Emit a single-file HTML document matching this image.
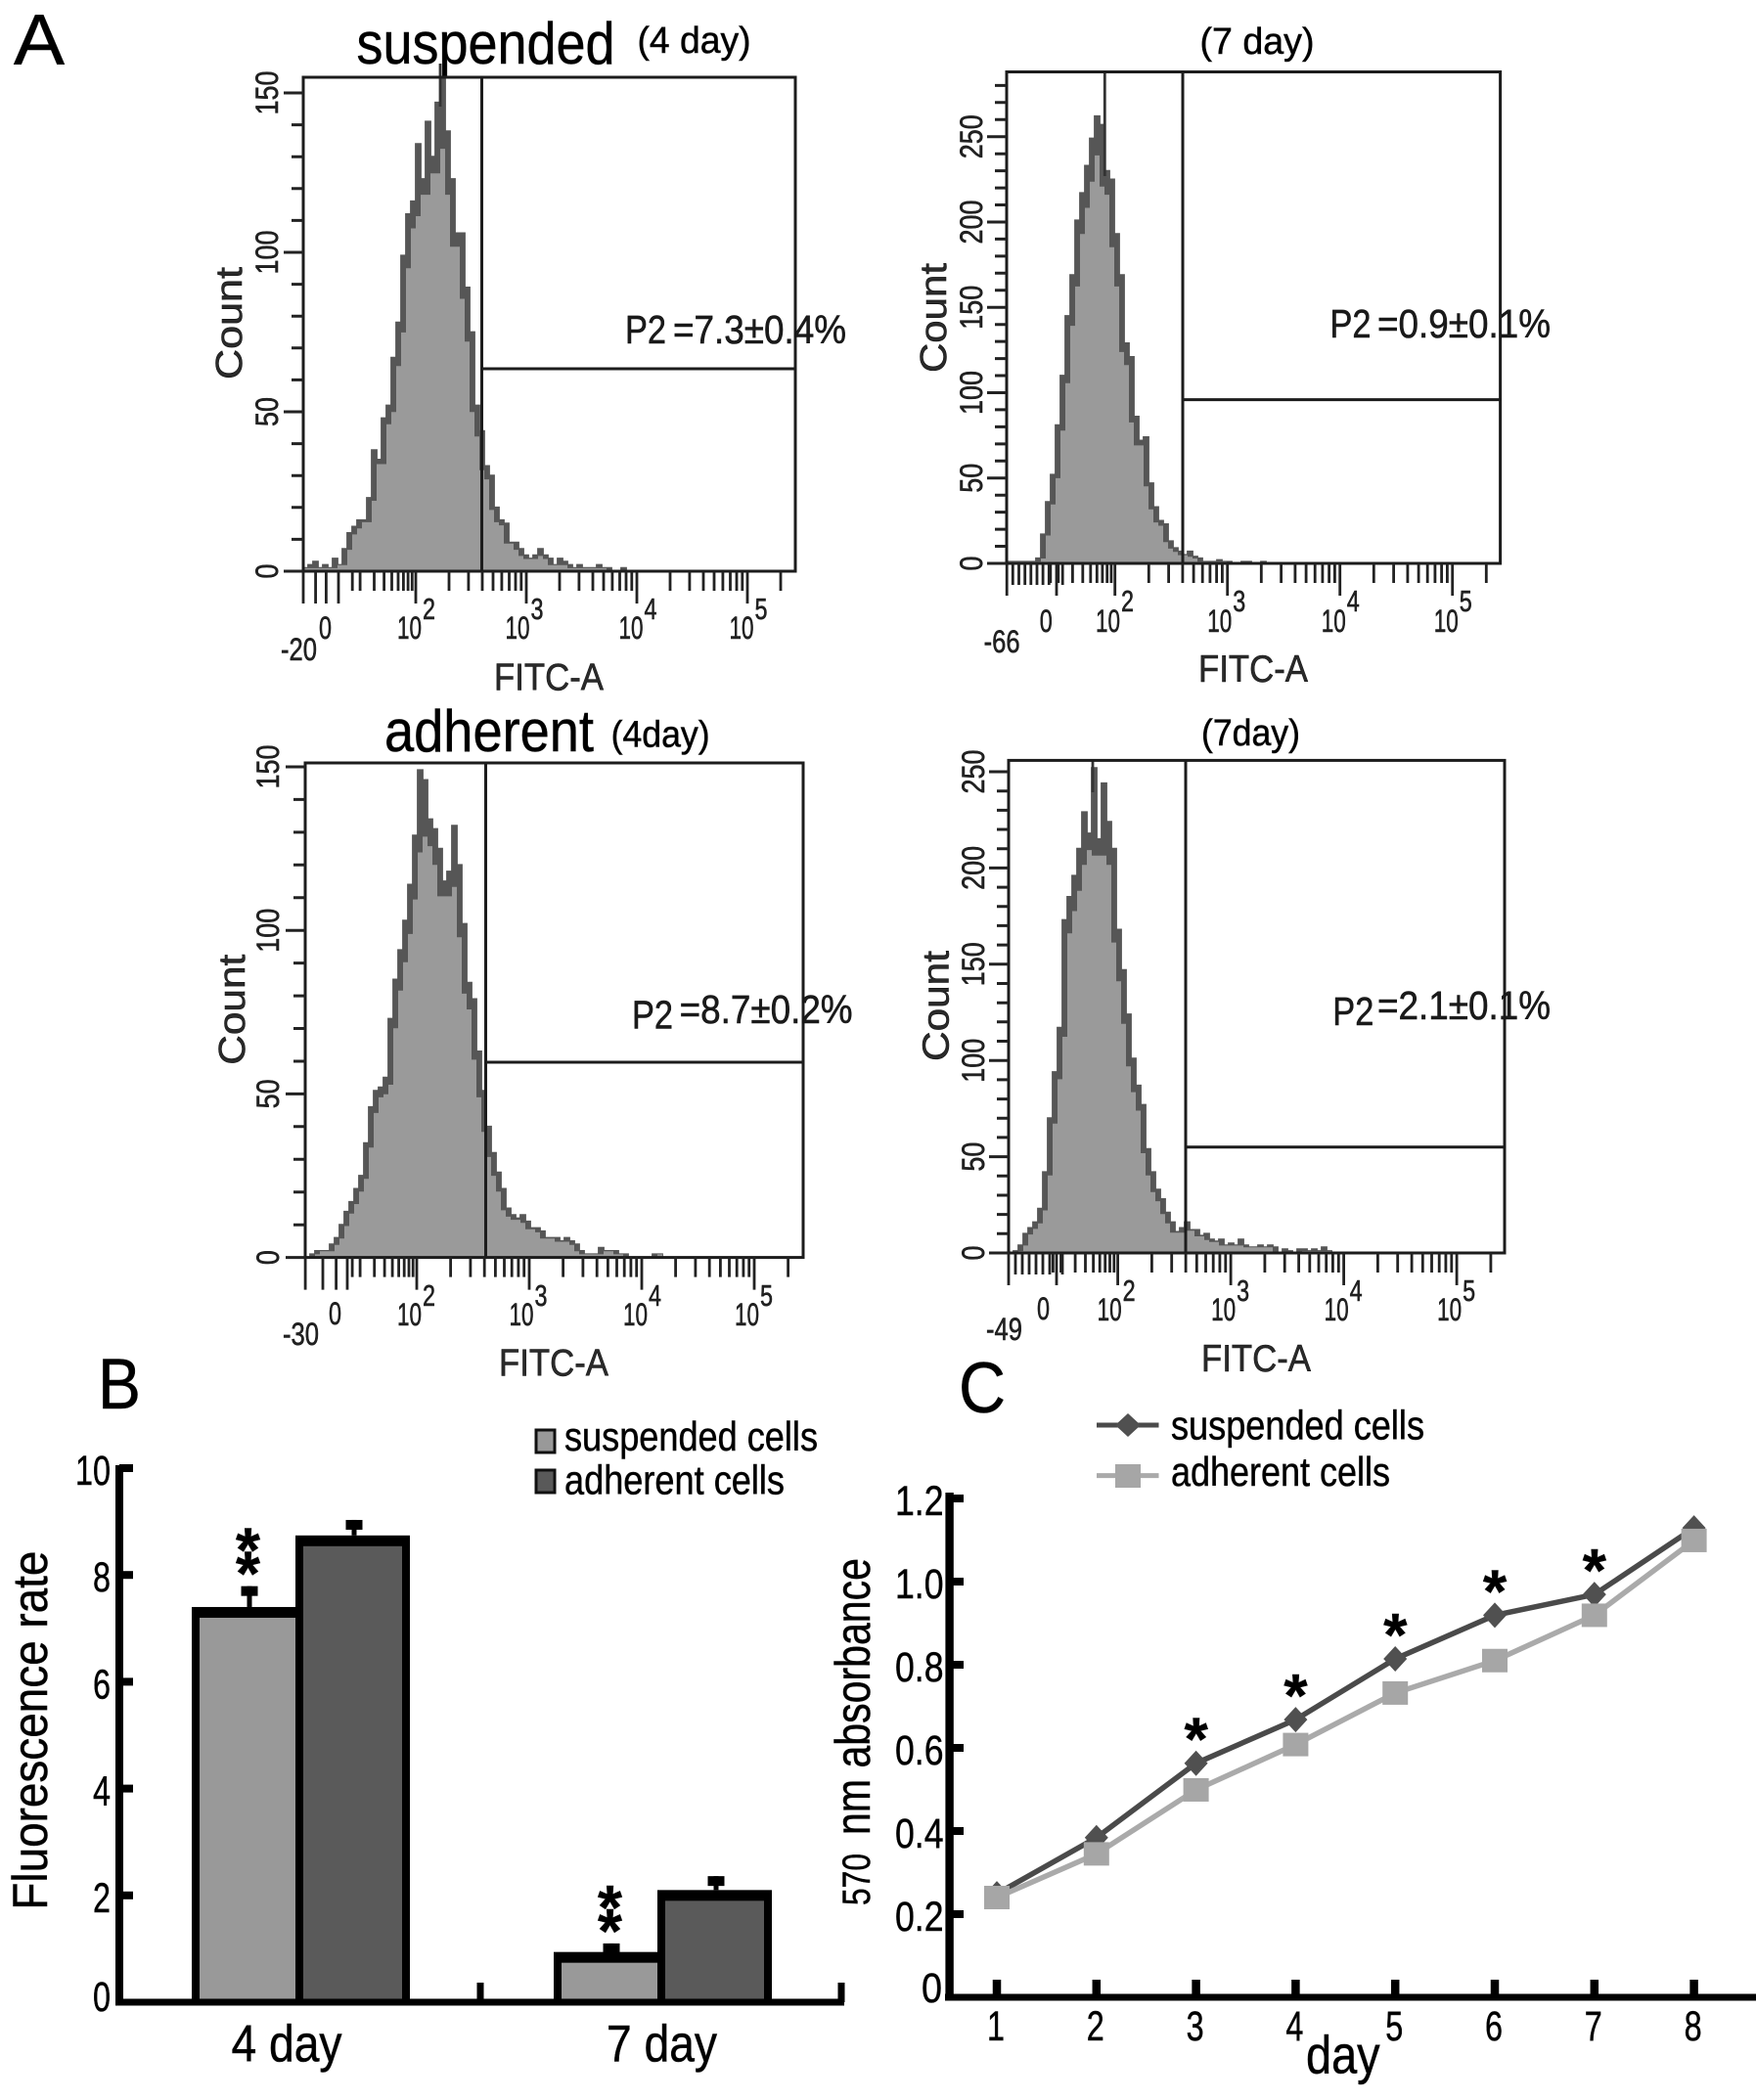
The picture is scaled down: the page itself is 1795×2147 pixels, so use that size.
<!DOCTYPE html>
<html lang="en">
<head>
<meta charset="utf-8">
<title>Flow cytometry histograms, fluorescence rate and absorbance charts</title>
<style>
html,body{margin:0;padding:0;background:#fff;}
svg{display:block;font-family:"Liberation Sans",Arial,sans-serif;}
text{stroke:#111;stroke-width:.55px;}
</style>
</head>
<body>
<svg id="fig" xmlns="http://www.w3.org/2000/svg" width="1795" height="2147" viewBox="0 0 1795 2147">
  <rect width="1795" height="2147" fill="#fff"/>
  <text x="14" y="66" font-size="73" textLength="52" lengthAdjust="spacingAndGlyphs">A</text>
  <text x="100" y="1440" font-size="73" textLength="44" lengthAdjust="spacingAndGlyphs">B</text>
  <text x="980" y="1444" font-size="73" textLength="48" lengthAdjust="spacingAndGlyphs">C</text>

  <text x="364.5" y="65" font-size="60" textLength="264" lengthAdjust="spacingAndGlyphs">suspended</text>
  <text x="651.5" y="54" font-size="38" textLength="116" lengthAdjust="spacingAndGlyphs">(4 day)</text>
  <text x="1226.5" y="55" font-size="38" textLength="117" lengthAdjust="spacingAndGlyphs">(7 day)</text>
  <text x="393" y="768" font-size="60" textLength="214" lengthAdjust="spacingAndGlyphs">adherent</text>
  <text x="624.6" y="763.6" font-size="38" textLength="101" lengthAdjust="spacingAndGlyphs">(4day)</text>
  <text x="1228" y="762" font-size="38" textLength="101" lengthAdjust="spacingAndGlyphs">(7day)</text>

  <g id="hists"></g>

  <g fill="#1a1a1a">
    <text x="639" y="351" font-size="41" textLength="42" lengthAdjust="spacingAndGlyphs">P2</text>
    <text x="688" y="351" font-size="41" textLength="177" lengthAdjust="spacingAndGlyphs">=7.3±0.4%</text>
    <text x="1359.5" y="345" font-size="41" textLength="42" lengthAdjust="spacingAndGlyphs">P2</text>
    <text x="1408" y="345" font-size="41" textLength="177" lengthAdjust="spacingAndGlyphs">=0.9±0.1%</text>
    <text x="646" y="1051.5" font-size="41" textLength="42" lengthAdjust="spacingAndGlyphs">P2</text>
    <text x="694.6" y="1046" font-size="41" textLength="177" lengthAdjust="spacingAndGlyphs">=8.7±0.2%</text>
    <text x="1362.3" y="1048" font-size="41" textLength="42" lengthAdjust="spacingAndGlyphs">P2</text>
    <text x="1408" y="1042" font-size="41" textLength="177" lengthAdjust="spacingAndGlyphs">=2.1±0.1%</text>
  </g>

  <g id="bars"></g>
  <text transform="translate(48,1952.6) rotate(-90)" font-size="50" textLength="367" lengthAdjust="spacingAndGlyphs">Fluorescence rate</text>
  <g>
    <rect x="548" y="1462" width="19" height="23" fill="#999" stroke="#111" stroke-width="3"/>
    <text x="577" y="1483" font-size="42" textLength="259" lengthAdjust="spacingAndGlyphs">suspended cells</text>
    <rect x="548" y="1503" width="19" height="23" fill="#595959" stroke="#111" stroke-width="3"/>
    <text x="577" y="1527.6" font-size="42" textLength="225" lengthAdjust="spacingAndGlyphs">adherent cells</text>
  </g>

  <g id="lines"></g>
  <text transform="translate(889,1948) rotate(-90)" font-size="40" textLength="53" lengthAdjust="spacingAndGlyphs">570</text>
  <text transform="translate(889,1876) rotate(-90)" font-size="50" textLength="283" lengthAdjust="spacingAndGlyphs">nm absorbance</text>
  <text x="1335" y="2119.4" font-size="55" textLength="75.6" lengthAdjust="spacingAndGlyphs">day</text>
  <g>
    <line x1="1121" y1="1457" x2="1184.5" y2="1457" stroke="#4a4a4a" stroke-width="5"/>
    <polygon points="1153,1445 1166,1457 1153,1469 1140,1457" fill="#505050"/>
    <text x="1197" y="1471.5" font-size="42" textLength="259" lengthAdjust="spacingAndGlyphs">suspended cells</text>
    <line x1="1121" y1="1508.6" x2="1184.5" y2="1508.6" stroke="#aaa" stroke-width="5"/>
    <rect x="1140" y="1497" width="26" height="24" fill="#a6a6a6"/>
    <text x="1197" y="1519" font-size="42" textLength="224" lengthAdjust="spacingAndGlyphs">adherent cells</text>
  </g>
</svg>

<script>
// ---- Histogram data: counts per 5 px channel bin ----
const countsSuspended4 = [1,2,3,1,2,1,4,2,7,12,14,16,16,23,38,35,48,52,67,78,99,112,116,134,123,141,130,147,155,138,123,106,106,89,75,52,44,33,30,20,16,15,9,9,7,5,4,5,7,5,4,2,4,3,2,1,2,1,1,1,2,1,1,0,0,1];
const countsSuspended7 = [1,1,1,1,1,1,3,17,36,52,81,110,145,169,201,217,233,249,262,257,230,225,193,169,129,121,86,72,74,47,33,25,23,13,9,7,5,7,4,3,1,1,1,2,1,1,0,0,1,1,0,0,1];
const countsAdherent4 = [0,1,2,2,2,4,6,10,14,17,21,25,35,46,51,52,55,73,85,94,103,114,129,149,146,134,131,125,115,118,132,120,102,84,79,63,51,40,32,26,21,15,13,12,13,11,9,9,8,6,6,6,5,6,5,4,2,1,1,1,3,2,2,2,1,1,0,0,0,0,0,1,1];
const countsAdherent7 = [0,1,4,10,13,16,23,42,70,94,117,173,185,196,210,229,218,252,215,244,224,210,168,147,124,101,87,77,54,42,33,28,21,16,11,13,16,12,12,9,10,7,6,7,4,5,4,7,4,3,3,4,3,4,3,0,2,1,0,2,2,1,2,1,3,1];
const countTicks4 = [0,50,100,150];
const countTicks7 = [0,50,100,150,200,250];
const decadeLabels = [2,3,4,5];
const subDecadeTicks = [16,20,30,40,50,60,70,80,90];
const lowTicksSuspended4 = [-20,-13,-7,0];
const lowTicksSuspended7 = [-66,-58,-50,-42,-34,-26,-18,-10,0,8];
const lowTicksAdherent4 = [-30,-17.5,-8,0];
const lowTicksAdherent7 = [-49,-42,-35,-28,-21,-14,-7,0,6];

// ---- Bar chart data ----
const barCategories = ["4 day","7 day"];
const barSuspended = [7.4,0.94];
const barAdherent = [8.74,2.1];
const barSuspendedErrorTop = [7.79,1.1];
const barAdherentErrorTop = [9.03,2.36];
const barTickLabels = [0,2,4,6,8,10];

// ---- Line chart data ----
const lineDays = [1,2,3,4,5,6,7,8];
const lineSuspended = [0.249,0.384,0.563,0.668,0.814,0.919,0.969,1.129];
const lineAdherent = [0.24,0.345,0.499,0.608,0.732,0.81,0.919,1.099];
const lineTickValues = [0,0.2,0.4,0.6,0.8,1.0,1.2];
const lineStarDays = [3,4,5,6,7];

const NS = 'http://www.w3.org/2000/svg';
function make(tag, attrs, parent){
  const e = document.createElementNS(NS, tag);
  for (const k in attrs) e.setAttribute(k, attrs[k]);
  parent.appendChild(e);
  return e;
}
function label(parent, str, x, y, size, len, rot, fill){
  const a = {'font-size': size, fill: fill || '#000'};
  if (rot) a.transform = 'translate(' + x + ',' + y + ') rotate(-90)';
  else { a.x = x; a.y = y; }
  if (len) { a.textLength = len; a.lengthAdjust = 'spacingAndGlyphs'; }
  const t = make('text', a, parent);
  t.textContent = str;
  return t;
}

// ---------- Histogram panels ----------
const panels = [
 {id:'suspended-4', L:310, R:813, T:79, B:584, gx:492.5, gy:377, ppc:3.26, counts:countsSuspended4, yTicks:countTicks4,
  d2:425, dec:113, lows:lowTicksSuspended4, allTall:true, x0:346, unit:1.8, spike:450, spikeTop:65, spikeEnd:109, labelX:284,
  decStart:[-19,-21.5,-18.5,-18.5], decBase:653, expBase:633, zeroX:326, zeroBase:653, minText:'-20', minX:287, minBase:675,
  countX:247, countY:388, countLen:115, fitcX:505, fitcY:705.7},
 {id:'suspended-7', L:1029, R:1533.6, T:73.5, B:576, gx:1209, gy:408.6, ppc:1.745, counts:countsSuspended7, yTicks:countTicks7,
  d2:1139.7, dec:115, lows:lowTicksSuspended7, allTall:false, x0:1080, unit:0.77, spike:1129.3, spikeTop:73.5, spikeEnd:180, labelX:1004,
  decStart:[-19.7,-20.4,-19,-19], decBase:646, expBase:625, zeroX:1062.7, zeroBase:646, minText:'-66', minX:1005.6, minBase:667,
  countX:967, countY:381, countLen:112, fitcX:1225, fitcY:697},
 {id:'adherent-4', L:312, R:821, T:780, B:1285.6, gx:496.5, gy:1086, ppc:3.344, counts:countsAdherent4, yTicks:countTicks4,
  d2:426, dec:115, lows:lowTicksAdherent4, allTall:true, x0:355, unit:1.43, spike:null, spikeTop:0, spikeEnd:0, labelX:285,
  decStart:[-20,-20.5,-19,-20], decBase:1355, expBase:1335, zeroX:336, zeroBase:1354, minText:'-30', minX:289, minBase:1375,
  countX:250, countY:1088.7, countLen:113, fitcX:510, fitcY:1406.4},
 {id:'adherent-7', L:1031, R:1538, T:777.4, B:1281, gx:1212, gy:1172.7, ppc:1.968, counts:countsAdherent7, yTicks:countTicks7,
  d2:1142.6, dec:115.5, lows:lowTicksAdherent7, allTall:false, x0:1080, unit:1.0, spike:1117, spikeTop:777.4, spikeEnd:810, labelX:1006,
  decStart:[-21,-20,-20,-20], decBase:1350, expBase:1330, zeroX:1060, zeroBase:1349, minText:'-49', minX:1008, minBase:1370,
  countX:969.6, countY:1085, countLen:113, fitcX:1228, fitcY:1402}
];
const BIN = 5;
const histRoot = document.getElementById('hists');
panels.forEach(function(p){
  const g = make('g', {}, histRoot);
  
  
  const xBin = function(i){ return p.L + i * BIN; };
  const yCount = function(c){ return Math.max(p.T, p.B - c * p.ppc); };
  const xLog = function(v){
    const lg = Math.log10(v);
    return p.d2 + (lg - 2) * p.dec * (lg < 2 ? 0.72 : 1);
  };
  const xLow = function(v){ return p.x0 + v * p.unit; };
  const stepPath = function(vals){
    let d = 'M' + xBin(0) + ' ' + p.B;
    vals.forEach(function(c, i){
      d += 'V' + yCount(c).toFixed(1) + 'H' + xBin(i + 1);
    });
    return d + 'V' + p.B;
  };

  // dark spiky envelope from the counts, lighter body under the neighbouring minimum
  const body = p.counts.map(function(c, i, a){
    const prev = i > 0 ? a[i - 1] : c;
    const next = i < a.length - 1 ? a[i + 1] : c;
    return Math.min(prev, c, next) * 0.96;
  });
  const outline = make('path', {d: stepPath(p.counts), fill: '#565656', stroke: '#565656', 'stroke-width': 1.8}, g);
  
  
  const area = make('path', {d: stepPath(body) + 'Z', fill: '#9a9a9a', stroke: 'none'}, g);
  
  
  if (p.spike) {
    const sp = make('line', {x1: p.spike, x2: p.spike, y1: p.spikeTop, y2: p.spikeEnd, stroke: '#333', 'stroke-width': 2.8}, g);
    
    
  }

  // frame and gates
  const frame = make('rect', {x: p.L, y: p.T, width: p.R - p.L, height: p.B - p.T, fill: 'none', stroke: '#1c1c1c', 'stroke-width': 3}, g);
  
  
  const gv = make('line', {x1: p.gx, x2: p.gx, y1: p.T, y2: p.B, stroke: '#1c1c1c', 'stroke-width': 3}, g);
  
  
  const gh = make('line', {x1: p.gx, x2: p.R, y1: p.gy, y2: p.gy, stroke: '#1c1c1c', 'stroke-width': 3}, g);
  
  

  // y ticks
  let ty = '';
  for (let c = 0; c <= 400; c += 10) {
    const y = p.B - c * p.ppc;
    if (y < p.T) break;
    const len = (c % 50 === 0) ? 20 : 12;
    ty += 'M' + p.L + ' ' + y.toFixed(1) + 'h-' + len;
  }
  const yt = make('path', {d: ty, stroke: '#222', 'stroke-width': 3, fill: 'none'}, g);
  
  
  p.yTicks.forEach(function(c){
    const s = String(c);
    const len = s.length * 15;
    const t = label(g, s, p.labelX, p.B - c * p.ppc + len / 2, 32, len, true, '#222');
    
    
  });

  // x ticks
  let tx = '';
  const addTick = function(x, len){
    if (x > p.R || x < p.L - 1) return;
    tx += 'M' + x.toFixed(1) + ' ' + p.B + 'v' + len;
  };
  p.lows.forEach(function(v){ addTick(xLow(v), (p.allTall || v === 0 || v === p.lows[0]) ? 33 : 22); });
  subDecadeTicks.forEach(function(v){ addTick(xLog(v), 20); });
  for (let e = 2; e <= 5; e++) {
    addTick(xLog(Math.pow(10, e)), 33);
    for (let k = 2; k <= 9; k++) addTick(xLog(k * Math.pow(10, e)), 20);
  }
  const xt = make('path', {d: tx, stroke: '#222', 'stroke-width': 2.8, fill: 'none'}, g);
  
  

  decadeLabels.forEach(function(e, i){
    const x = p.d2 + (e - 2) * p.dec + p.decStart[i];
    const base = label(g, '10', x, p.decBase, 32, 25, false, '#222');
    
    
    const ex = label(g, String(e), x + 26, p.expBase, 31, 13, false, '#222');
    
    
  });
  const z = label(g, '0', p.zeroX, p.zeroBase, 32, 13, false, '#222');
  
  
  const m = label(g, p.minText, p.minX, p.minBase, 32, 37, false, '#222');
  
  

  const ct = label(g, 'Count', p.countX, p.countY, 38, p.countLen, true, '#2a2a2a');
  
  
  const ft = label(g, 'FITC-A', p.fitcX, p.fitcY, 39, 112, false, '#2a2a2a');
  
  
});

// ---------- Bar chart ----------
(function(){
  const g = document.getElementById('bars');
  const base = 2047;
  const yBar = function(v){ return base - v * 54.6; };
  const bandCenter = function(i){ return 307 + i * 370; };

  const draw = function(x0, w, v, fill, name){
    const outer = make('rect', {x: x0, y: yBar(v), width: w, height: base - yBar(v), fill: '#000'}, g);
    
    
    const inner = make('rect', {x: x0 + 8, y: yBar(v) + 11, width: w - 16, height: Math.max(0, base - yBar(v) - 11), fill: fill}, g);
    
    
  };
  const err = function(x, v, top, name){
    const st = make('line', {x1: x, x2: x, y1: yBar(v), y2: yBar(top), stroke: '#000', 'stroke-width': 5}, g);
    
    
    const cap = make('rect', {x: x - 8.5, y: yBar(top), width: 17, height: 10, fill: '#000'}, g);
    
    
  };

  barCategories.forEach(function(cat, i){
    const c = bandCenter(i);
    const key = cat.replace(' ', '-');
    err(c - 52, barSuspended[i], barSuspendedErrorTop[i], 'suspended-' + key);
    err(c + 55, barAdherent[i], barAdherentErrorTop[i], 'adherent-' + key);
    draw(c - 111, 114, barSuspended[i], '#999999', 'suspended-' + key);
    draw(c - 5, 117, barAdherent[i], '#5a5a5a', 'adherent-' + key);
    for (let s = 0; s < 2; s++) {
      const star = label(g, '*', c - 66, yBar(barSuspendedErrorTop[i]) - 15 - s * 24 + 24, 64, 0, false);
      star.setAttribute('font-weight', 'bold');
      
      
    }
    const t = label(g, cat, 236.5 + i * 383.5, 2107.5, 53, 113);
    
    
  });

  const yAxis = make('line', {x1: 122, x2: 122, y1: 1498, y2: base + 3.5, stroke: '#000', 'stroke-width': 8}, g);
  
  
  const xAxis = make('line', {x1: 118, x2: 863, y1: base, y2: base, stroke: '#000', 'stroke-width': 7}, g);
  
  

  barTickLabels.forEach(function(v){
    const y = yBar(v);
    if (v > 0) {
      const tk = make('rect', {x: 122, y: y - 4, width: 14, height: 8, fill: '#000'}, g);
      
      
    }
    const s = String(v);
    const w = s.length * 18;
    const t = label(g, s, 113 - w, y + (v === 0 ? 9 : 17), 43, w);
    
    
  });
  barCategories.forEach(function(cat, i){
    const x = 491 + i * 369;
    const tk = make('rect', {x: x - 3.5, y: base - 20, width: 7, height: 20, fill: '#000'}, g);
    
    
  });
})();

// ---------- Line chart ----------
(function(){
  const g = document.getElementById('lines');
  const xDay = function(d){ return 1019 + (d - 1) * 101.8; };
  const yAbs = function(v){ return 2042 - v * 425; };

  const yAxis = make('line', {x1: 970.6, x2: 970.6, y1: 1526, y2: 2045, stroke: '#000', 'stroke-width': 8.4}, g);
  
  
  const xAxis = make('line', {x1: 966, x2: 1795, y1: 2042, y2: 2042, stroke: '#000', 'stroke-width': 7}, g);
  
  

  lineTickValues.forEach(function(v){
    const y = yAbs(v);
    if (v > 0) {
      const tk = make('rect', {x: 970, y: y - 4, width: 15, height: 8, fill: '#000'}, g);
      
      
    }
    const s = v === 0 ? '0' : v.toFixed(1);
    const w = v === 0 ? 21 : 49.5;
    const t = label(g, s, v === 0 ? 942 : 915, v === 0 ? 2047 : y + 17, 43, w);
    
    
  });
  lineDays.forEach(function(d){
    const x = xDay(d);
    const tk = make('rect', {x: x - 4.25, y: 2024, width: 8.5, height: 18, fill: '#000'}, g);
    
    
    const t = label(g, String(d), x - 10, 2086, 43, 18);
    
    
  });

  const pts = function(arr){
    return arr.map(function(v, i){ return xDay(lineDays[i]).toFixed(1) + ',' + yAbs(v).toFixed(1); }).join(' ');
  };
  const s1 = make('polyline', {points: pts(lineSuspended), fill: 'none', stroke: '#4a4a4a', 'stroke-width': 5.5}, g);
  
  
  lineSuspended.forEach(function(v, i){
    const x = xDay(lineDays[i]), y = yAbs(v);
    const mk = make('polygon', {points: x + ',' + (y - 13) + ' ' + (x + 12) + ',' + y + ' ' + x + ',' + (y + 13) + ' ' + (x - 12) + ',' + y, fill: '#505050'}, g);
    
    
  });
  const s2 = make('polyline', {points: pts(lineAdherent), fill: 'none', stroke: '#aaaaaa', 'stroke-width': 5.5}, g);
  
  
  lineAdherent.forEach(function(v, i){
    const x = xDay(lineDays[i]), y = yAbs(v);
    const mk = make('rect', {x: x - 13, y: y - 12, width: 26, height: 24, fill: '#a6a6a6'}, g);
    
    
  });
  lineStarDays.forEach(function(d){
    const v = lineSuspended[lineDays.indexOf(d)];
    const st = label(g, '*', xDay(d) - 12, yAbs(v) - 3, 62, 0);
    st.setAttribute('font-weight', 'bold');
    
    
  });
})();
</script>
</body>
</html>
